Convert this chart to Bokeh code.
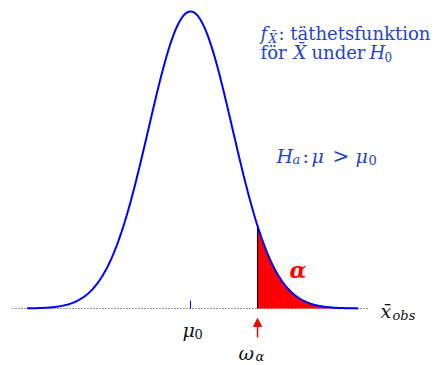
import numpy as np
from bokeh.plotting import figure
from bokeh.models import Range1d, Label, Arrow, NormalHead
from bokeh.embed import file_html
from bokeh.resources import INLINE

# ---- data (standardised units) ----
mu0 = 0.0
sigma = 1.0
omega_alpha = 1.6            # critical value
curve_start, curve_end = -3.9, 4.0
baseline_start, baseline_end = -4.25, 4.25
tick_height = 0.0107

z = np.linspace(curve_start, curve_end, 400)
pdf = np.exp(-0.5 * ((z - mu0) / sigma) ** 2) / (sigma * np.sqrt(2 * np.pi))
tail = z >= omega_alpha
zt = np.concatenate([[omega_alpha], z[tail]])
pt = np.exp(-0.5 * ((zt - mu0) / sigma) ** 2) / (sigma * np.sqrt(2 * np.pi))

# ---- layout helpers (page pixels -> data) ----
SX = 41.9                 # px per sigma
X0 = 190                  # page x of mu0
Y0 = 308                  # page y of baseline
K = 0.398942 / 297        # density per px

def dx(X):
    return (X - X0) / SX

def dy(Y):
    return (Y0 - Y) * K

W, H = 436, 365
p = figure(width=W, height=H, output_backend="svg", toolbar_location=None,
           x_range=Range1d(dx(0), dx(W)), y_range=Range1d(dy(H), dy(0)),
           min_border=0, x_axis_location=None, y_axis_location=None,
           outline_line_color=None, background_fill_color="white")
p.xgrid.visible = False
p.ygrid.visible = False

# baseline
p.line([baseline_start, baseline_end], [0, 0], line_color="#333333",
       line_width=1, line_dash="1 2")
# tick at mu0
p.line([mu0, mu0], [0, tick_height], line_color="blue", line_width=1)

# rejection region
p.varea(x=zt, y1=np.zeros_like(zt), y2=pt, fill_color="red")
p.line(np.concatenate([[omega_alpha], zt]), np.concatenate([[0], pt]),
       line_color="black", line_width=1.2)

# density curve
p.line(z, pdf, line_color="blue", line_width=2)

# arrow to omega
p.add_layout(Arrow(end=NormalHead(size=8, fill_color="red", line_color="red"),
                   x_start=omega_alpha, y_start=dy(337),
                   x_end=omega_alpha, y_end=dy(318),
                   line_color="red", line_width=1.5))

BLUE = "#1F45C8"
FONT = "DejaVu Serif"

def lab(X, Y, text, size=18, style="normal", color=BLUE):
    p.add_layout(Label(x=dx(X), y=dy(Y), text=text, text_font=FONT,
                       text_font_size=f"{size}px", text_font_style=style,
                       text_color=color, text_baseline="alphabetic",
                       text_align="left"))

# f_Xbar: täthetsfunktion
lab(260, 33, "f", style="italic")
lab(268, 38, "X\u0304", size=12, style="italic")
lab(278, 33, ": täthetsfunktion")
# för Xbar under H0
lab(260, 52, "för")
lab(293, 52, "X\u0304", style="italic")
lab(311, 52, "under")
lab(369, 52, "H", style="italic")
lab(384, 56, "0", size=12)

# Ha: mu > mu0
lab(276, 155, "H", style="italic", size=19)
lab(292, 159, "a", size=13, style="italic")
lab(302, 155, ":", size=19)
lab(311, 155, "μ", style="italic", size=19)
lab(332, 155, ">", size=20)
lab(355, 155, "μ", style="italic", size=19)
lab(368, 159, "0", size=13)

# alpha
lab(289, 269, "α", size=22, style="bold italic", color="red")

# x̄_obs
lab(380, 310, "x\u0304", style="italic", size=19, color="#111111")
lab(392, 315, "obs", size=13, style="italic", color="#111111")

# mu0 label
lab(182, 329, "μ", style="italic", size=19, color="#111111")
lab(194, 333, "0", size=13, color="#111111")

# omega_alpha label
lab(238, 352, "ω", style="italic", size=19, color="#111111")
lab(255, 356, "α", size=13, style="italic", color="#111111")

open("out.html", "w").write(file_html(p, INLINE))
